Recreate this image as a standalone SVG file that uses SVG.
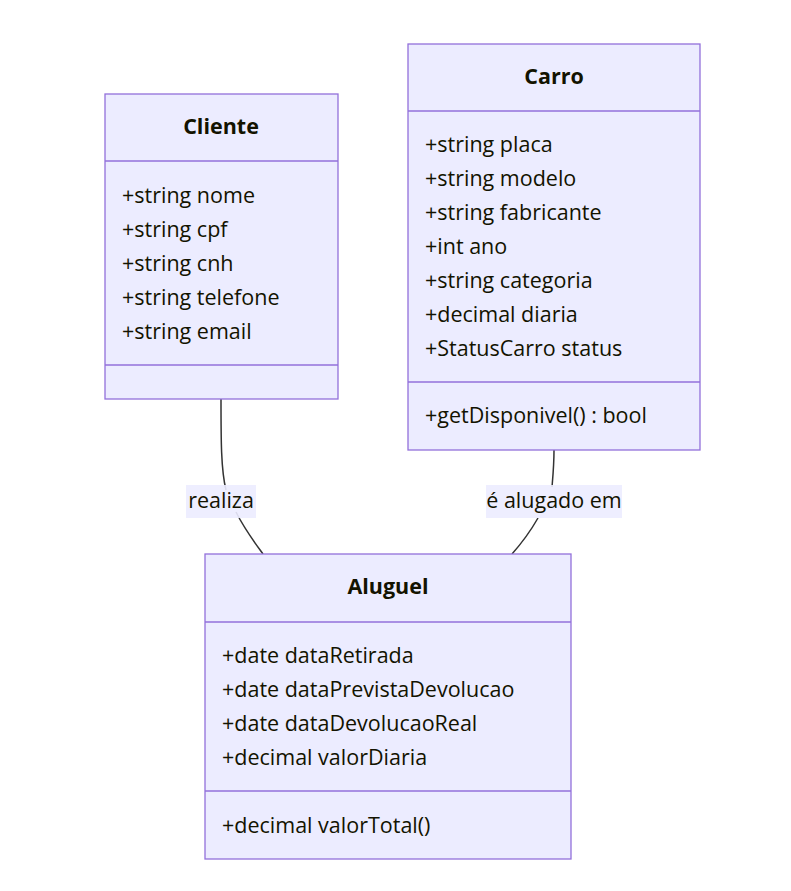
<svg xmlns="http://www.w3.org/2000/svg" width="791" height="891" viewBox="0 0 791 891">
<style>
.box{fill:#ECECFF;stroke:#9370DB;stroke-width:1.3}
.div{stroke:#9370DB;stroke-width:1.3}
.t{font-family:"Open Sans","Noto Sans",sans-serif;font-size:21.5px;fill:#131300}
.title{font-weight:bold;text-anchor:middle}
.edge{fill:none;stroke:#333333;stroke-width:1.5}
.lbg{fill:#ECECFF;opacity:0.9}
.lbl{font-family:"Open Sans","Noto Sans",sans-serif;font-size:21.5px;fill:#131300;text-anchor:middle}
</style>
<rect width="791" height="891" fill="#ffffff"/>
<g id="connectors">
<path class="edge" d="M221,399 C221,440 221,470 226,490"/>
<path class="edge" d="M236,512 C245,530 255,543 263,554"/>
<path class="edge" d="M554,450 C554,465 553,475 552,487"/>
<path class="edge" d="M538,518 C530,532 520,545 512,554"/>
<g id="label-realiza">
<rect class="lbg" x="186" y="485" width="70" height="33"/>
<text class="lbl" x="221" y="508">realiza</text>
</g>
<g id="label-alugado">
<rect class="lbg" x="486" y="485" width="136" height="33"/>
<text class="lbl" x="554" y="508">é alugado em</text>
</g>
</g>
<g id="Cliente">
<rect class="box" x="105" y="94" width="233" height="305"/>
<line class="div" x1="105" y1="161" x2="338" y2="161"/>
<line class="div" x1="105" y1="365" x2="338" y2="365"/>
<text class="t title" x="221" y="134">Cliente</text>
<text class="t" x="122" y="203">+string nome</text>
<text class="t" x="122" y="237">+string cpf</text>
<text class="t" x="122" y="271">+string cnh</text>
<text class="t" x="122" y="305">+string telefone</text>
<text class="t" x="122" y="339">+string email</text>
</g>
<g id="Carro">
<rect class="box" x="408" y="44" width="292" height="406"/>
<line class="div" x1="408" y1="111" x2="700" y2="111"/>
<line class="div" x1="408" y1="382" x2="700" y2="382"/>
<text class="t title" x="554" y="84">Carro</text>
<text class="t" x="425" y="152">+string placa</text>
<text class="t" x="425" y="186">+string modelo</text>
<text class="t" x="425" y="220">+string fabricante</text>
<text class="t" x="425" y="254">+int ano</text>
<text class="t" x="425" y="288">+string categoria</text>
<text class="t" x="425" y="322">+decimal diaria</text>
<text class="t" x="425" y="356">+StatusCarro status</text>
<text class="t" x="425" y="423">+getDisponivel() : bool</text>
</g>
<g id="Aluguel">
<rect class="box" x="205" y="554" width="366" height="305"/>
<line class="div" x1="205" y1="622" x2="571" y2="622"/>
<line class="div" x1="205" y1="791" x2="571" y2="791"/>
<text class="t title" x="388" y="594">Aluguel</text>
<text class="t" x="222" y="663">+date dataRetirada</text>
<text class="t" x="222" y="697">+date dataPrevistaDevolucao</text>
<text class="t" x="222" y="731">+date dataDevolucaoReal</text>
<text class="t" x="222" y="765">+decimal valorDiaria</text>
<text class="t" x="222" y="833">+decimal valorTotal()</text>
</g>
</svg>
